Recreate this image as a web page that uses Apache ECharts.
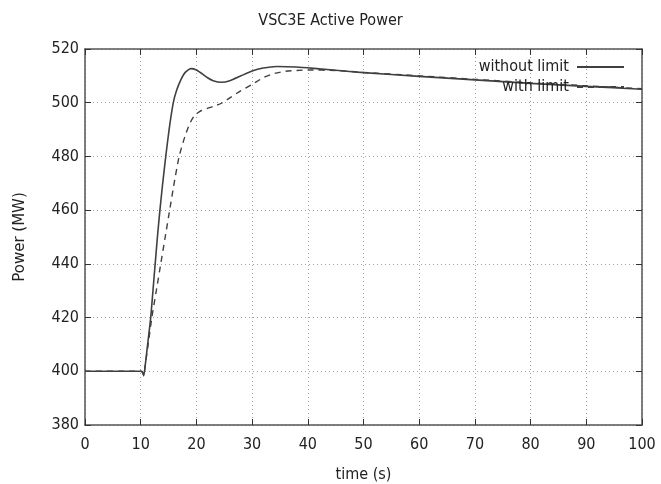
<!DOCTYPE html>
<html>
<head>
<meta charset="utf-8">
<script src="https://cdn.jsdelivr.net/npm/echarts@6/dist/echarts.min.js"></script>
<style>
  html, body { margin: 0; padding: 0; background: #ffffff; }
  #chart { width: 661px; height: 484px; }
</style>
</head>
<body>
<div id="chart"></div>
<script>
// Time samples (s) and active power (MW) for the two simulation runs
var timeWithout = [0, 10, 10.35, 10.55, 10.8, 11.3, 11.8, 12.2, 12.6, 13.0, 13.45, 13.95, 14.5, 15.1, 15.85, 16.45, 17.2, 18.0, 19.0, 20, 21, 22, 23, 24.5, 26, 28, 30, 32, 34.4, 38, 42, 46, 50, 60, 70, 80, 90, 100];
var powerWithout = [400, 400, 399.6, 398.3, 402, 411, 420, 430, 440, 450, 460, 470, 480, 490, 500, 504.6, 508.5, 511.3, 512.7, 512.2, 510.8, 509.3, 508.2, 507.6, 508.2, 510, 511.8, 512.9, 513.5, 513.3, 512.6, 511.9, 511.2, 509.8, 508.5, 507.2, 506.1, 505];

var timeWith = [0, 10, 10.35, 10.55, 10.8, 11.4, 12.0, 12.8, 13.6, 14.4, 15.2, 16.0, 16.9, 17.9, 18.8, 19.7, 20.9, 23, 24.5, 26, 28, 30, 32, 34, 36, 40, 45, 50, 60, 70, 80, 90, 100];
var powerWith = [400, 400, 399.6, 398.5, 402, 411, 420, 430, 440, 450, 460, 470, 480, 487.2, 492.2, 495.3, 497.1, 498.6, 499.8, 501.8, 504.5, 506.8, 509.3, 510.9, 511.7, 512.2, 512, 511.3, 510, 508.7, 507.4, 506.3, 505.2];

var seriesNames = ['without limit', 'with limit'];

function pairs(xs, ys) {
  return xs.map(function (x, i) { return [x, ys[i]]; });
}

var condensed = '"DejaVu Sans Condensed", "DejaVu Sans", sans-serif';
var ink = '#404040';
var gridLine = { show: true, lineStyle: { color: '#a0a0a0', type: [1, 3], width: 1 } };
var frame = { show: true, onZero: false, lineStyle: { color: '#555', width: 1.5 } };
var innerTick = { show: true, inside: true, length: 6, lineStyle: { color: '#333' } };

var chart = echarts.init(document.getElementById('chart'), null, { renderer: 'canvas' });
chart.setOption({
  animation: false,
  backgroundColor: '#ffffff',
  title: {
    text: 'VSC3E Active Power',
    left: 'center',
    top: 8,
    textStyle: { fontFamily: condensed, fontSize: 16, fontWeight: 'normal', color: '#222' }
  },
  legend: {
    orient: 'vertical',
    right: 31,
    top: 54,
    align: 'right',
    itemWidth: 47,
    itemHeight: 14,
    itemGap: 4,
    data: seriesNames,
    itemStyle: { opacity: 0 },
    textStyle: { fontFamily: condensed, fontSize: 16, color: '#222', padding: [0, 3, 0, 0] }
  },
  grid: { left: 85, right: 19, top: 49, bottom: 59, containLabel: false, outerBoundsMode: 'none' },
  xAxis: [{
    type: 'value', min: 0, max: 100, interval: 10,
    name: 'time (s)', nameLocation: 'middle', nameGap: 42,
    nameTextStyle: { fontFamily: condensed, fontSize: 16, color: '#222' },
    axisLine: frame,
    axisTick: innerTick,
    axisLabel: { fontFamily: condensed, fontSize: 16, color: '#222', margin: 12 },
    splitLine: gridLine
  }, {
    type: 'value', min: 0, max: 100, interval: 10, position: 'top',
    axisLine: frame,
    axisTick: innerTick,
    axisLabel: { show: false },
    splitLine: { show: false }
  }],
  yAxis: [{
    type: 'value', min: 380, max: 520, interval: 20,
    name: 'Power (MW)', nameLocation: 'middle', nameGap: 57, nameRotate: 90,
    nameTextStyle: { fontFamily: '"DejaVu Sans", sans-serif', fontSize: 15, color: '#222' },
    axisLine: frame,
    axisTick: innerTick,
    axisLabel: { fontFamily: condensed, fontSize: 16, color: '#222', margin: 6 },
    splitLine: gridLine
  }, {
    type: 'value', min: 380, max: 520, interval: 20, position: 'right',
    axisLine: frame,
    axisTick: innerTick,
    axisLabel: { show: false },
    splitLine: { show: false }
  }],
  series: [{
    name: seriesNames[0],
    type: 'line',
    data: pairs(timeWithout, powerWithout),
    showSymbol: false,
    symbol: 'none',
    smooth: 0.2,
    color: ink,
    lineStyle: { color: ink, width: 1.6, type: 'solid' }
  }, {
    name: seriesNames[1],
    type: 'line',
    data: pairs(timeWith, powerWith),
    showSymbol: false,
    symbol: 'none',
    smooth: 0.2,
    color: ink,
    lineStyle: { color: ink, width: 1.4, type: [6, 5] }
  }]
});
</script>
</body>
</html>
